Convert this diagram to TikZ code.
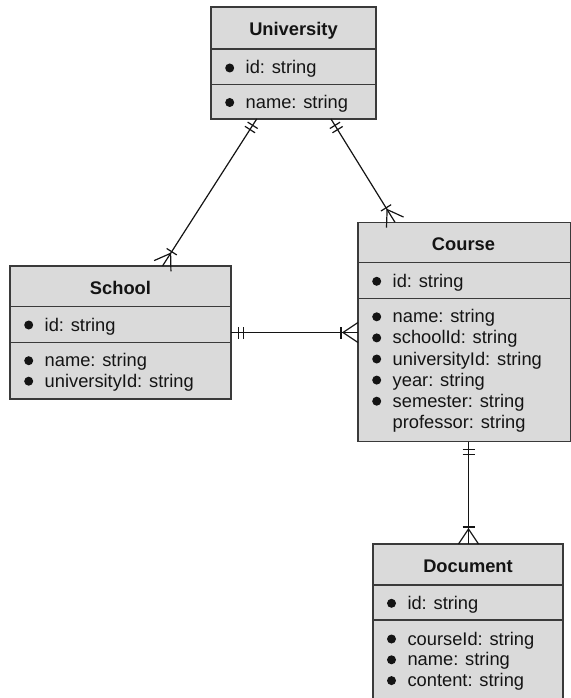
\documentclass[tikz,border=0pt]{standalone}
\usepackage{fontspec}
\setmainfont{Liberation Sans}
\usetikzlibrary{decorations.markings}
\definecolor{boxfill}{HTML}{DADADA}
\definecolor{boxline}{HTML}{3A3A3A}
\definecolor{ink}{HTML}{141414}
\tikzset{
 entity/.style={draw=boxline, fill=boxfill, line width=1.3pt, inner sep=0pt, outer sep=0pt, anchor=north west},
 sepline/.style={draw=boxline, line width=1.3pt},
 etitle/.style={font=\fontsize{18.3}{22}\selectfont\bfseries, text=ink, anchor=base, inner sep=0pt},
 attr/.style={font=\fontsize{18.3}{22}\selectfont, text=ink, anchor=base west, inner sep=0pt},
 dot/.style={circle, fill=ink, inner sep=0pt, minimum size=9pt},
 rel/.style={draw=ink, line width=1.2pt},
 mandone/.style={postaction={decorate, decoration={markings,
   mark=at position 7.5pt with {\draw[rel] (0,-6pt) -- (0,6pt);},
   mark=at position 12.5pt with {\draw[rel] (0,-6pt) -- (0,6pt);}}}},
 onemany/.style={postaction={decorate, decoration={markings,
   mark=at position -17pt with {\draw[rel] (0,-6pt) -- (0,6pt);},
   mark=at position -15pt with {\draw[rel] (15pt,-10pt) -- (0,0) -- (15pt,10pt);}}}},
}
\begin{document}
\begin{tikzpicture}[x=1pt,y=-1pt]
\useasboundingbox (0,0) rectangle (570,698);

% University
\node[entity, minimum width=165pt, minimum height=112pt] (uni) at (211,7) {};
\draw[sepline] (211,49) -- (376,49);
\draw[sepline] (211,84.5) -- (376,84.5);
\node[etitle] (uniT) at (293.5,35.5) {University};
\node[dot] (uniD1) at (229.7,68) {};
\node[attr] (uniA1) at (245.5,74) {id: string};
\node[dot] (uniD2) at (229.7,102.5) {};
\node[attr] (uniA2) at (245.5,108.5) {name: string};

% School
\node[entity, minimum width=221pt, minimum height=133pt] (school) at (10,266) {};
\draw[sepline] (10,306.7) -- (231,306.7);
\draw[sepline] (10,342.3) -- (231,342.3);
\node[etitle] (schoolT) at (120.5,294) {School};
\node[dot] (schoolD1) at (28.7,325) {};
\node[attr] (schoolA1) at (44.5,331) {id: string};
\node[dot] (schoolD2) at (28.7,360.7) {};
\node[attr] (schoolA2) at (44.5,366.7) {name: string};
\node[dot] (schoolD3) at (28.7,381.2) {};
\node[attr] (schoolA3) at (44.5,387.2) {universityId: string};

% Course
\node[entity, minimum width=213pt, minimum height=219.4pt] (course) at (358,222.3) {};
\draw[sepline] (358,262.3) -- (571,262.3);
\draw[sepline] (358,298.3) -- (571,298.3);
\node[etitle] (courseT) at (463.5,250) {Course};
\node[dot] (courseD1) at (376.7,281.3) {};
\node[attr] (courseA1) at (392.5,287.3) {id: string};
\node[dot] (courseD2) at (376.7,316.8) {};
\node[attr] (courseA2) at (392.5,322.8) {name: string};
\node[dot] (courseD3) at (376.7,337.9) {};
\node[attr] (courseA3) at (392.5,343.9) {schoolId: string};
\node[dot] (courseD4) at (376.7,359) {};
\node[attr] (courseA4) at (392.5,365) {universityId: string};
\node[dot] (courseD5) at (376.7,380.1) {};
\node[attr] (courseA5) at (392.5,386.1) {year: string};
\node[dot] (courseD6) at (376.7,401.2) {};
\node[attr] (courseA6) at (392.5,407.2) {semester: string};
\node[attr] (courseA7) at (392.5,428.3) {professor: string};

% Document
\node[entity, minimum width=190pt, minimum height=154.5pt] (doc) at (373,544) {};
\draw[sepline] (373,585) -- (563,585);
\draw[sepline] (373,620) -- (563,620);
\node[etitle] (docT) at (468,572.3) {Document};
\node[dot] (docD1) at (391.5,603.3) {};
\node[attr] (docA1) at (407.3,609.3) {id: string};
\node[dot] (docD2) at (391.5,639) {};
\node[attr] (docA2) at (407.3,645) {courseId: string};
\node[dot] (docD3) at (391.5,659.8) {};
\node[attr] (docA3) at (407.3,665.8) {name: string};
\node[dot] (docD4) at (391.5,680.6) {};
\node[attr] (docA4) at (407.3,686.6) {content: string};

% Relationships
\coordinate (docTop) at ([xshift=0.5pt]doc.north);
\draw[rel, mandone, onemany] ([xshift=45.7pt]uni.south west) -- ([xshift=152.5pt]school.north west);
\draw[rel, mandone, onemany] ([xshift=120pt]uni.south west) -- ([xshift=37pt]course.north west);
\draw[rel, mandone, onemany] (school.east) -- (school.east -| course.west);
\draw[rel, mandone, onemany] (course.south -| docTop) -- (docTop);
\end{tikzpicture}
\end{document}
